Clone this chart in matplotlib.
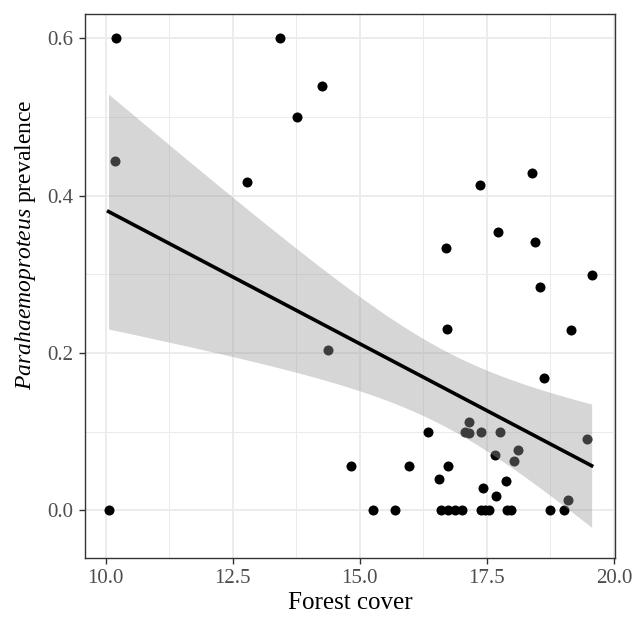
import matplotlib
import numpy as np

matplotlib.use("Agg")
import matplotlib.pyplot as plt  # noqa: E402

# forest cover vs Parahaemoproteus prevalence
forest_cover = [
    10.06, 10.19, 10.20, 12.79, 13.43, 13.77, 14.25, 14.37, 14.82, 15.27,
    15.69, 15.97, 16.35, 16.56, 16.59, 16.70, 16.71, 16.73, 16.74, 16.88,
    17.01, 17.07, 17.15, 17.15, 17.36, 17.38, 17.39, 17.43, 17.47, 17.55,
    17.65, 17.67, 17.71, 17.75, 17.87, 17.89, 17.97, 18.03, 18.11, 18.39,
    18.45, 18.54, 18.62, 18.75, 19.02, 19.10, 19.15, 19.46, 19.56,
]
prevalence = [
    0.000, 0.444, 0.600, 0.417, 0.600, 0.500, 0.539, 0.204, 0.057, 0.000,
    0.000, 0.056, 0.100, 0.040, 0.000, 0.334, 0.231, 0.000, 0.056, 0.000,
    0.000, 0.100, 0.112, 0.098, 0.414, 0.000, 0.100, 0.028, 0.000, 0.000,
    0.071, 0.019, 0.354, 0.100, 0.038, 0.000, 0.000, 0.063, 0.077, 0.429,
    0.341, 0.284, 0.168, 0.000, 0.000, 0.013, 0.230, 0.091, 0.299,
]

x_ticks = [10.0, 12.5, 15.0, 17.5, 20.0]
y_ticks = [0.0, 0.2, 0.4, 0.6]

SERIF = ["Liberation Serif", "DejaVu Serif"]
plt.rcParams["font.family"] = SERIF
plt.rcParams["mathtext.fontset"] = "custom"
plt.rcParams["mathtext.rm"] = "Liberation Serif"
plt.rcParams["mathtext.it"] = "Liberation Serif:italic"


def lm_band(x, y, n_grid=80, t_crit=2.012):
    # ordinary least squares with 95% confidence band, like geom_smooth(method="lm")
    x = np.asarray(x)
    y = np.asarray(y)
    slope, intercept = np.polyfit(x, y, 1)
    resid = y - (intercept + slope * x)
    n = len(x)
    s = np.sqrt(np.sum(resid ** 2) / (n - 2))
    grid = np.linspace(x.min(), x.max(), n_grid)
    fit = intercept + slope * grid
    se = s * np.sqrt(1.0 / n + (grid - x.mean()) ** 2 / np.sum((x - x.mean()) ** 2))
    return grid, fit, fit - t_crit * se, fit + t_crit * se


fig = plt.figure(figsize=(6.33, 6.17), dpi=100)
ax = fig.add_axes([0.1343, 0.0961, 0.8373, 0.8812])

ax.scatter(forest_cover, prevalence, s=52, color="black", linewidths=0, zorder=3)

grid, fit, lo, hi = lm_band(forest_cover, prevalence)
ax.fill_between(grid, lo, hi, color="#999999", alpha=0.4, linewidth=0, zorder=4)
ax.plot(grid, fit, color="black", linewidth=2.6, zorder=5)

ax.set_xlim(9.597, 20.02)
ax.set_ylim(-0.06, 0.631)
ax.set_xticks(x_ticks)
ax.set_xticklabels([f"{v:.1f}" for v in x_ticks])
ax.set_yticks(y_ticks)
ax.set_yticklabels([f"{v:.1f}" for v in y_ticks])
ax.set_xticks([11.25, 13.75, 16.25, 18.75], minor=True)
ax.set_yticks([0.1, 0.3, 0.5], minor=True)

ax.grid(which="major", color="#ebebeb", linewidth=1.3, zorder=0)
ax.grid(which="minor", color="#ebebeb", linewidth=0.7, zorder=0)
ax.set_axisbelow(True)

for spine in ax.spines.values():
    spine.set_color("#333333")
    spine.set_linewidth(1.0)

ax.tick_params(which="major", direction="out", length=4.3, width=1.0,
               color="#333333", labelsize=15, labelcolor="#4d4d4d", pad=4)
ax.tick_params(which="minor", length=0)

ax.set_xlabel("Forest cover", fontsize=18, color="black", labelpad=3)
ax.set_ylabel(r"$\mathit{Parahaemoproteus}$ prevalence", fontsize=17, color="black")
ax.yaxis.set_label_coords(-0.088, 0.575)

fig.savefig("out.png", dpi=100)
plt.close(fig)
